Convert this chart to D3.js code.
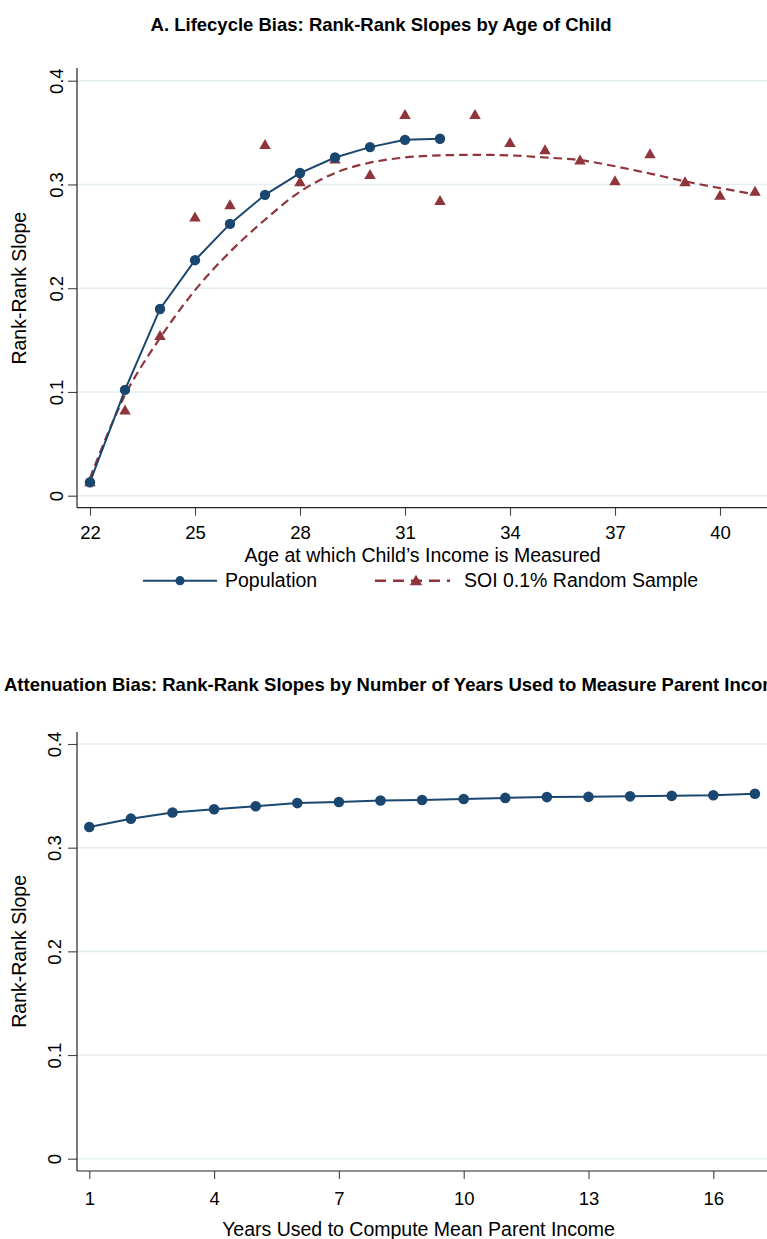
<!DOCTYPE html>
<html>
<head>
<meta charset="utf-8">
<script src="https://cdn.jsdelivr.net/npm/d3@7"></script>
<style>
  html, body { margin: 0; padding: 0; background: #fff; }
  svg { display: block; }
  text { font-family: "Liberation Sans", Arial, Helvetica, sans-serif; fill: #000; }
</style>
</head>
<body>
<svg id="chart" width="767" height="1239"></svg>
<script>
// ---------------- DATA ----------------
const titleA = "A. Lifecycle Bias: Rank-Rank Slopes by Age of Child";
const titleB = "B. Attenuation Bias: Rank-Rank Slopes by Number of Years Used to Measure Parent Income";
const xTitleA = "Age at which Child\u2019s Income is Measured";
const xTitleB = "Years Used to Compute Mean Parent Income";
const yTitle = "Rank-Rank Slope";
const legendLabels = ["Population", "SOI 0.1% Random Sample"];

const yTickValues = [0, 0.1, 0.2, 0.3, 0.4];
const yTickLabels = ["0", "0.1", "0.2", "0.3", "0.4"];
const xTicksA = [22, 25, 28, 31, 34, 37, 40];
const xTicksB = [1, 4, 7, 10, 13, 16];

const agesPop = [22, 23, 24, 25, 26, 27, 28, 29, 30, 31, 32];
const popSlope = [0.013, 0.102, 0.180, 0.227, 0.262, 0.290, 0.311, 0.326, 0.336, 0.343, 0.344];

const agesSOI = [22, 23, 24, 25, 26, 27, 28, 29, 30, 31, 32, 33, 34, 35, 36, 37, 38, 39, 40, 41];
const soiSlope = [0.014, 0.083, 0.155, 0.269, 0.281, 0.339, 0.303, 0.325, 0.310, 0.368,
                  0.285, 0.368, 0.341, 0.334, 0.324, 0.304, 0.330, 0.303, 0.290, 0.294];
const soiFit = [0.017, 0.097, 0.152, 0.198, 0.235, 0.266, 0.293, 0.311, 0.321, 0.326,
                0.328, 0.3285, 0.328, 0.326, 0.3235, 0.3175, 0.3105, 0.303, 0.2965, 0.2905];

const yearsB = [1, 2, 3, 4, 5, 6, 7, 8, 9, 10, 11, 12, 13, 14, 15, 16, 17];
const slopeB = [0.320, 0.328, 0.334, 0.337, 0.340, 0.343, 0.344, 0.3455, 0.346, 0.347,
                0.348, 0.3488, 0.349, 0.3495, 0.350, 0.3505, 0.352];

// ---------------- STYLE ----------------
const NAVY = "#1a476f";
const MAROON = "#90353b";
const GRID = "#e4edf1";
const AXIS = "#222";
const FONT_TICK = "18.5px";
const FONT_AXIS = "19.5px";
const FONT_TITLE = "18.5px";

const svg = d3.select("#chart");

function triPath(w, h) {
  return `M0,${-h / 2}L${w / 2},${h / 2}L${-w / 2},${h / 2}Z`;
}

function panel(cfg) {
  const g = svg.append("g");
  const x = d3.scaleLinear().domain(cfg.xDom).range(cfg.xRange);
  const y = d3.scaleLinear().domain([0, 0.4]).range(cfg.yRange);

  // gridlines
  g.append("g").selectAll("line").data(yTickValues).join("line")
    .attr("x1", cfg.axisX).attr("x2", 800)
    .attr("y1", d => y(d)).attr("y2", d => y(d))
    .attr("stroke", GRID).attr("stroke-width", 1.6);

  // y axis
  const yAx = g.append("g").attr("transform", `translate(${cfg.axisX},0)`)
    .call(d3.axisLeft(y).tickValues(yTickValues).tickSize(9)
      .tickFormat((d, i) => yTickLabels[i]));
  yAx.select(".domain").remove();
  yAx.selectAll(".tick line").attr("stroke", "#444").attr("stroke-width", 1.1);
  yAx.selectAll(".tick text")
    .attr("x", 0).attr("dy", null).attr("y", 0)
    .attr("text-anchor", "middle")
    .attr("transform", `translate(${cfg.yLabelOff},0) rotate(-90)`)
    .style("font-size", FONT_TICK).attr("fill", "#000");
  g.append("line").attr("x1", cfg.axisX).attr("x2", cfg.axisX)
    .attr("y1", cfg.axisTop).attr("y2", cfg.axisY)
    .attr("stroke", AXIS).attr("stroke-width", 1.2);

  // x axis
  const xAx = g.append("g").attr("transform", `translate(0,${cfg.axisY})`)
    .call(d3.axisBottom(x).tickValues(cfg.xTicks).tickSize(8));
  xAx.select(".domain").remove();
  xAx.selectAll(".tick line").attr("stroke", "#444").attr("stroke-width", 1.1);
  xAx.selectAll(".tick text").attr("dy", null).attr("y", cfg.xLabelOff)
    .style("font-size", FONT_TICK).attr("fill", "#000");
  g.append("line").attr("x1", cfg.axisX).attr("x2", 800)
    .attr("y1", cfg.axisY).attr("y2", cfg.axisY)
    .attr("stroke", AXIS).attr("stroke-width", 1.2);

  // titles
  const t = g.append("text").text(cfg.title)
    .style("font-size", FONT_TITLE).style("font-weight", "bold")
    .attr("y", cfg.titleY);
  if (cfg.titleAnchor === "middle") {
    t.attr("x", cfg.titleX).attr("text-anchor", "middle");
  } else {
    // reference crops this wide title at the page edges: first visible glyph follows "B. "
    const pre = t.node().getSubStringLength(0, cfg.titleSkip);
    t.attr("x", cfg.titleX - pre);
  }
  g.append("text").text(cfg.xTitle).attr("x", cfg.xTitleX).attr("y", cfg.xTitleY)
    .attr("text-anchor", "middle").style("font-size", FONT_AXIS);
  g.append("text").text(yTitle)
    .attr("transform", `translate(${cfg.yTitleX},${(y(0) + y(0.4)) / 2}) rotate(-90)`)
    .attr("text-anchor", "middle").style("font-size", FONT_AXIS);

  return { g, x, y };
}

// ---------------- PANEL A ----------------
const A = panel({
  xDom: [22, 40], xRange: [90, 720], yRange: [495.7, 80.7],
  axisX: 77, axisY: 507.7, axisTop: 68,
  xTicks: xTicksA, xLabelOff: 31.3, yLabelOff: -14,
  title: titleA, titleAnchor: "middle", titleX: 381, titleY: 31,
  xTitle: xTitleA, xTitleX: 422.5, xTitleY: 561.5, yTitleX: 25.5
});

const fitLine = d3.line().x((d, i) => A.x(agesSOI[i])).y(d => A.y(d)).curve(d3.curveCatmullRom.alpha(0.5));
A.g.append("path").datum(soiFit).attr("d", fitLine)
  .attr("fill", "none").attr("stroke", MAROON).attr("stroke-width", 2.2)
  .attr("stroke-dasharray", "8.5,5");

const popLine = d3.line().x((d, i) => A.x(agesPop[i])).y(d => A.y(d));
A.g.append("path").datum(popSlope).attr("d", popLine)
  .attr("fill", "none").attr("stroke", NAVY).attr("stroke-width", 2);

A.g.append("g").selectAll("path").data(soiSlope).join("path")
  .attr("d", triPath(11.5, 10))
  .attr("transform", (d, i) => `translate(${A.x(agesSOI[i])},${A.y(d)})`)
  .attr("fill", MAROON);

A.g.append("g").selectAll("circle").data(popSlope).join("circle")
  .attr("cx", (d, i) => A.x(agesPop[i])).attr("cy", d => A.y(d)).attr("r", 5.2)
  .attr("fill", NAVY);

// legend
const leg = svg.append("g");
leg.append("line").attr("x1", 143).attr("x2", 217).attr("y1", 580.7).attr("y2", 580.7)
  .attr("stroke", NAVY).attr("stroke-width", 2);
leg.append("circle").attr("cx", 180).attr("cy", 580.7).attr("r", 4.6).attr("fill", NAVY);
leg.append("text").text(legendLabels[0]).attr("x", 225).attr("y", 587.3).style("font-size", FONT_AXIS);
leg.append("line").attr("x1", 375).attr("x2", 450).attr("y1", 580.7).attr("y2", 580.7)
  .attr("stroke", MAROON).attr("stroke-width", 2.4).attr("stroke-dasharray", "11,7");
leg.append("path").attr("d", triPath(12.5, 10.5)).attr("transform", "translate(416,580)").attr("fill", MAROON);
leg.append("text").text(legendLabels[1]).attr("x", 464).attr("y", 587.3).style("font-size", FONT_AXIS);

// ---------------- PANEL B ----------------
const B = panel({
  xDom: [1, 16], xRange: [89.3, 713.3], yRange: [1158.7, 744],
  axisX: 77, axisY: 1171, axisTop: 732,
  xTicks: xTicksB, xLabelOff: 33.5, yLabelOff: -16.5,
  title: titleB, titleAnchor: "start", titleSkip: 3, titleX: 4, titleY: 690.7,
  xTitle: xTitleB, xTitleX: 418.5, xTitleY: 1235.5, yTitleX: 25.5
});

const lineB = d3.line().x((d, i) => B.x(yearsB[i])).y(d => B.y(d));
B.g.append("path").datum(slopeB).attr("d", lineB)
  .attr("fill", "none").attr("stroke", NAVY).attr("stroke-width", 2);
B.g.append("g").selectAll("circle").data(slopeB).join("circle")
  .attr("cx", (d, i) => B.x(yearsB[i])).attr("cy", d => B.y(d)).attr("r", 5.3)
  .attr("fill", NAVY);
</script>
</body>
</html>
